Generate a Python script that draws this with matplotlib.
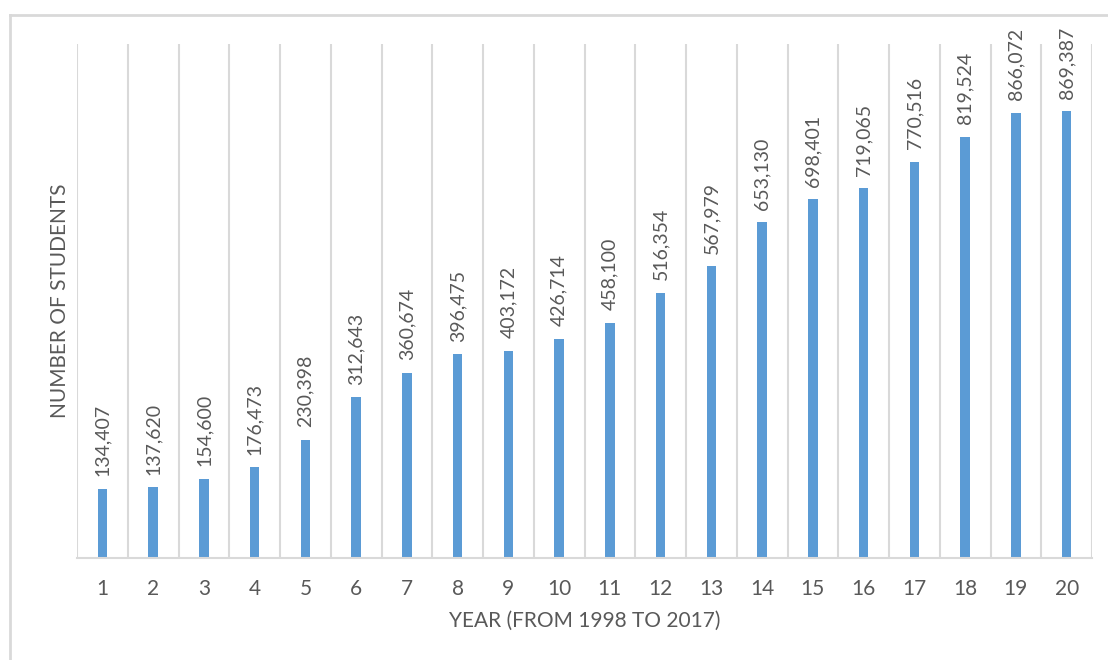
import matplotlib
matplotlib.use("Agg")
import matplotlib.pyplot as plt
from matplotlib.lines import Line2D

years = [str(i) for i in range(1, 21)]
students = [134407, 137620, 154600, 176473, 230398, 312643, 360674, 396475,
            403172, 426714, 458100, 516354, 567979, 653130, 698401, 719065,
            770516, 819524, 866072, 869387]
xlabel = "YEAR (FROM 1998 TO 2017)"
ylabel = "NUMBER OF STUDENTS"

plt.rcParams['font.family'] = ['Lato', 'DejaVu Sans']
TEXT = '#595959'
GRID = '#D9D9D9'
BAR = '#5B9BD5'

fig = plt.figure(figsize=(11.08, 6.6), dpi=100)
ax = fig.add_axes([77/1108, 1-558/660, (1092-77)/1108, (558-44)/660])

x = list(range(len(years)))
bars = ax.bar(x, students, width=0.19, color=BAR, zorder=3)
ax.set_xlim(-0.5, len(years)-0.5)
ax.set_ylim(0, 1000000)

for xi, v in zip(x, students):
    ax.annotate(f"{v:,}", (xi, v), xytext=(0, 9), textcoords='offset points',
                rotation=90, ha='center', va='bottom', color=TEXT, fontsize=14)

ax.set_xticks(x)
ax.set_xticklabels(years, color=TEXT, fontsize=15)
ax.set_xticks([i - 0.5 for i in range(len(years)+1)], minor=True)
ax.tick_params(axis='x', which='both', length=0, pad=15)
ax.set_yticks([])
ax.grid(which='minor', axis='x', color=GRID, linewidth=1.5, zorder=0)
for s in ['top', 'left', 'right']:
    ax.spines[s].set_visible(False)
ax.spines['bottom'].set_color(GRID)
ax.spines['bottom'].set_linewidth(1.5)
ax.spines['bottom'].set_zorder(4)

ax.set_xlabel(xlabel, color=TEXT, fontsize=15, labelpad=9)
fig.text(60/1108, 1-301/660, ylabel, rotation=90, ha='center', va='center',
         color=TEXT, fontsize=15)

# figure border (left and top visible)
fig.add_artist(Line2D([10/1108, 10/1108], [0, 1-15/660], transform=fig.transFigure,
                      color=GRID, linewidth=2))
fig.add_artist(Line2D([10/1108, 1], [1-15/660, 1-15/660], transform=fig.transFigure,
                      color=GRID, linewidth=2))

fig.savefig("out.png", dpi=100)
